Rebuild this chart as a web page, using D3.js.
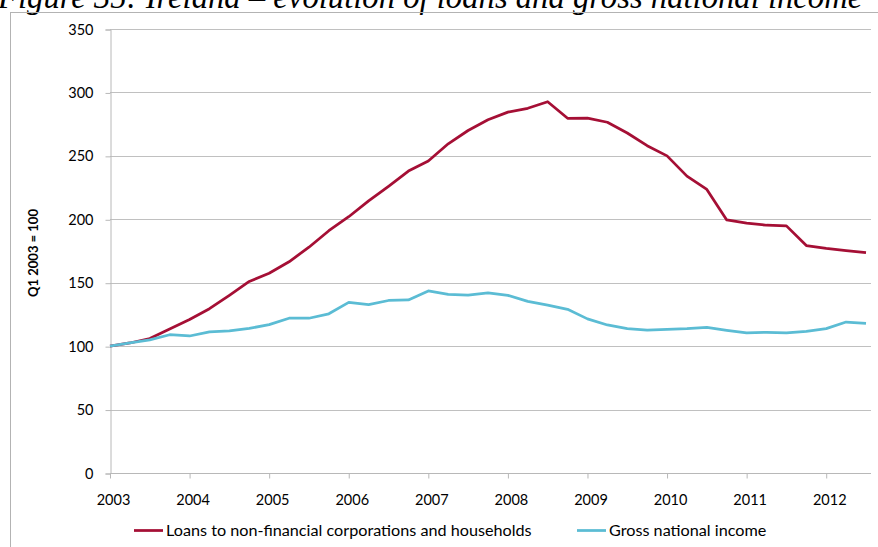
<!DOCTYPE html>
<html>
<head>
<meta charset="utf-8">
<script src="https://cdn.jsdelivr.net/npm/d3@7"></script>
<style>
  html, body { margin: 0; padding: 0; background: #fff; }
  svg { display: block; }
</style>
</head>
<body>
<script>
// Quarterly index values, Q1 2003 = 100 (2003 Q1 .. 2012 Q3)
const startYear = 2003;
const loans = [100, 102.5, 106, 113.5, 121, 129.5, 140, 151, 157.5, 166.5, 178, 191,
  202, 214.5, 226, 238, 246, 259.5, 270, 278.5, 284.5, 287.5, 292.7, 279.6,
  279.8, 276.5, 268, 258, 250, 234, 223.5, 199.5, 197, 195.3, 194.8, 179.3,
  177, 175.3, 173.7];
const gni = [100, 102.5, 105, 109, 108, 111.3, 112, 114, 117, 122, 122, 125.5,
  134.5, 132.7, 136, 136.4, 143.5, 140.8, 140.3, 141.9, 140, 135.3, 132.4, 129,
  121.5, 116.7, 113.8, 112.7, 113.2, 113.8, 114.8, 112.5, 110.4, 110.9, 110.4, 111.7,
  113.8, 119, 118];
const yearTicks = [2003, 2004, 2005, 2006, 2007, 2008, 2009, 2010, 2011, 2012];
const valueTicks = [0, 50, 100, 150, 200, 250, 300, 350];
const seriesNames = ["Loans to non-financial corporations and households", "Gross national income"];
const seriesColors = ["#A50F35", "#5BBCD4"];
const titleText = "Figure 35: Ireland \u2013 evolution of loans and gross national income";

const W = 878, H = 547;
const plotLeft = 110, plotRight = 871, plotTop = 29, plotBottom = 473;
const uiFont = "Lato, 'Noto Sans', sans-serif";

const svg = d3.select("body").append("svg")
  .attr("width", W).attr("height", H);

// Title (partly above the visible area)
svg.append("text")
  .attr("x", -2).attr("y", 8)
  .attr("font-family", "'Liberation Serif', 'Times New Roman', serif")
  .attr("font-style", "italic")
  .attr("font-size", 32.7)
  .attr("fill", "#000")
  .text(titleText);

// Outer frame of the figure box
svg.append("line").attr("x1", 10.5).attr("x2", 10.5).attr("y1", 12).attr("y2", H)
  .attr("stroke", "#b3b3b3").attr("stroke-width", 1);
svg.append("line").attr("x1", 10).attr("x2", W).attr("y1", 12.5).attr("y2", 12.5)
  .attr("stroke", "#b3b3b3").attr("stroke-width", 1);

const x = d3.scaleLinear().domain([startYear, startYear + 9.5]).range([plotLeft, 866]);
const y = d3.scaleLinear().domain([0, 350]).range([plotBottom, plotTop]);

const t = i => startYear + i / 4;

// Horizontal gridlines
svg.append("g").selectAll("line").data(valueTicks.filter(v => v > 0)).join("line")
  .attr("x1", plotLeft).attr("x2", plotRight)
  .attr("y1", d => Math.round(y(d)) + 0.5).attr("y2", d => Math.round(y(d)) + 0.5)
  .attr("stroke", "#c0c0c0").attr("stroke-width", 1);

// Y axis
const yAxis = svg.append("g")
  .attr("transform", `translate(${plotLeft + 0.5},0.5)`)
  .call(d3.axisLeft(y).tickValues(valueTicks).tickSize(5).tickPadding(12).tickFormat(d3.format("d")));
yAxis.select(".domain").attr("stroke", "#b8b8b8");
yAxis.selectAll(".tick line").attr("stroke", "#b8b8b8");
yAxis.selectAll("text").attr("font-family", uiFont).attr("font-size", 14.5).attr("fill", "#000");

// X axis
const xAxis = svg.append("g")
  .attr("transform", `translate(0,${plotBottom + 0.5})`)
  .call(d3.axisBottom(x).tickValues(yearTicks).tickSize(5).tickPadding(16).tickFormat(d3.format("d")).tickSizeOuter(0));
xAxis.select(".domain").attr("stroke", "#b8b8b8").attr("d", `M${plotLeft},0H${plotRight}`);
xAxis.selectAll(".tick line").attr("stroke", "#b8b8b8");
xAxis.selectAll("text").attr("x", 3).attr("font-family", uiFont).attr("font-size", 14.5).attr("fill", "#000");

// Y axis title
svg.append("text")
  .attr("transform", "translate(38,253) rotate(-90)")
  .attr("text-anchor", "middle")
  .attr("font-family", uiFont).attr("font-weight", "bold").attr("font-size", 13)
  .attr("fill", "#000")
  .text("Q1 2003 = 100");

// Series lines
const line = d3.line().x((d, i) => x(t(i))).y(d => y(d));
[loans, gni].forEach((s, k) => {
  svg.append("path").datum(s)
    .attr("d", line)
    .attr("fill", "none")
    .attr("stroke", seriesColors[k])
    .attr("stroke-width", 2.75)
    .attr("stroke-linejoin", "round");
});

// Legend
const legendItems = [{x: 134}, {x: 577}];
legendItems.forEach((it, k) => {
  const g = svg.append("g").attr("transform", `translate(${it.x},530.5)`);
  g.append("line").attr("x1", 0).attr("x2", 29).attr("y1", 0).attr("y2", 0)
    .attr("stroke", seriesColors[k]).attr("stroke-width", 2.75);
  g.append("text").attr("x", 32).attr("y", 0).attr("dy", "0.35em")
    .attr("font-family", uiFont).attr("font-size", 16.2).attr("fill", "#000")
    .text(seriesNames[k]);
});
</script>
</body>
</html>
